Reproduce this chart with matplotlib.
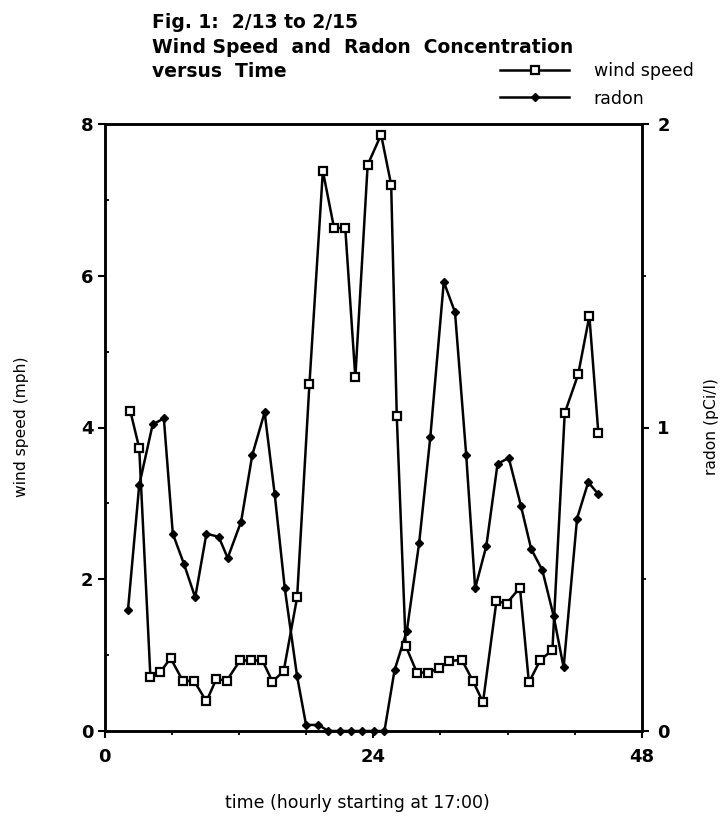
import matplotlib
matplotlib.use("Agg")
import matplotlib.pyplot as plt
from matplotlib.ticker import FixedLocator

# ---- data ----
wind_hours = [2.3, 3.1, 4.1, 5.0, 5.9, 7.0, 8.0, 9.1, 10.0, 10.9,
              12.1, 13.1, 14.1, 15.0, 16.0, 17.2, 18.3, 19.5, 20.5, 21.5,
              22.4, 23.5, 24.7, 25.6, 26.1, 26.9, 27.9, 28.9, 29.9, 30.8,
              31.9, 32.9, 33.8, 35.0, 35.9, 37.1, 37.9, 38.9, 40.0, 41.1,
              42.3, 43.3, 44.1]
wind_mph = [4.22, 3.73, 0.71, 0.78, 0.96, 0.66, 0.66, 0.39, 0.69, 0.66,
            0.93, 0.93, 0.93, 0.65, 0.79, 1.76, 4.57, 7.38, 6.63, 6.63,
            4.66, 7.46, 7.86, 7.20, 4.15, 1.12, 0.77, 0.77, 0.83, 0.92,
            0.94, 0.66, 0.38, 1.71, 1.68, 1.89, 0.64, 0.93, 1.07, 4.19,
            4.70, 5.47, 3.93]

radon_hours = [2.1, 3.1, 4.3, 5.3, 6.1, 7.1, 8.1, 9.1, 10.2, 11.0,
               12.2, 13.2, 14.3, 15.2, 16.1, 17.2, 18.0, 19.1, 20.0, 21.0,
               22.0, 23.0, 24.1, 25.0, 25.9, 27.0, 28.1, 29.1, 30.3, 31.3,
               32.3, 33.1, 34.1, 35.1, 36.1, 37.2, 38.1, 39.1, 40.1, 41.0,
               42.2, 43.2, 44.1]
radon_pci = [0.40, 0.81, 1.01, 1.03, 0.65, 0.55, 0.44, 0.65, 0.64, 0.57,
             0.69, 0.91, 1.05, 0.78, 0.47, 0.18, 0.02, 0.02, 0.0, 0.0,
             0.0, 0.0, 0.0, 0.0, 0.20, 0.33, 0.62, 0.97, 1.48, 1.38,
             0.91, 0.47, 0.61, 0.88, 0.90, 0.74, 0.60, 0.53, 0.38, 0.21,
             0.70, 0.82, 0.78]

x_major = [0, 24, 48]
x_minor = [6, 12, 18, 30, 36, 42]
wind_ticks = [0, 2, 4, 6, 8]
wind_minor = [1, 3, 5, 7]
radon_ticks = [0, 1, 2]
radon_minor = [0.5, 1.5]

title_lines = ["Fig. 1:  2/13 to 2/15",
               "Wind Speed  and  Radon  Concentration",
               "versus  Time"]

plt.rcParams['font.family'] = ['DejaVu Sans']

W, H = 720, 818
fig = plt.figure(figsize=(W / 100, H / 100), dpi=100)
left, right, top, bottom = 104.5, 642, 124, 731
ax = fig.add_axes([left / W, 1 - bottom / H, (right - left) / W, (bottom - top) / H])
ax2 = ax.twinx()

lw = 1.8
l_wind, = ax.plot(wind_hours, wind_mph, color='black', lw=lw, marker='s',
                  markersize=5.5, markerfacecolor='white', markeredgecolor='black',
                  markeredgewidth=1.6, clip_on=False, label='wind speed', zorder=3)
l_radon, = ax2.plot(radon_hours, radon_pci, color='black', lw=lw, marker='D',
                    markersize=4.5, markerfacecolor='black', markeredgecolor='black',
                    clip_on=False, label='radon', zorder=2)

ax.set_zorder(ax2.get_zorder() + 1)
ax.patch.set_visible(False)

ax.set_xlim(0, 48)
ax.set_ylim(0, 8)
ax2.set_ylim(0, 2)

ax.xaxis.set_major_locator(FixedLocator(x_major))
ax.xaxis.set_minor_locator(FixedLocator(x_minor))
ax.yaxis.set_major_locator(FixedLocator(wind_ticks))
ax.yaxis.set_minor_locator(FixedLocator(wind_minor))
ax2.yaxis.set_major_locator(FixedLocator(radon_ticks))
ax2.yaxis.set_minor_locator(FixedLocator(radon_minor))

for a in (ax, ax2):
    for s in a.spines.values():
        s.set_linewidth(lw)

ax.tick_params(axis='x', which='major', direction='out', length=5, width=1.5,
               pad=7, labelsize=13)
ax.tick_params(axis='x', which='minor', direction='out', length=3, width=1.3)
ax.tick_params(axis='y', which='major', direction='out', length=5, width=1.5,
               pad=3, labelsize=13)
ax.tick_params(axis='y', which='minor', direction='in', length=3, width=1.3)
ax2.tick_params(axis='y', which='major', direction='out', length=5, width=1.5,
                pad=6, labelsize=13)
ax2.tick_params(axis='y', which='minor', direction='out', length=3, width=1.3)

for lab in ax.get_xticklabels() + ax.get_yticklabels() + ax2.get_yticklabels():
    lab.set_fontweight('bold')

# title
for txt, base in zip(title_lines, [28, 53, 77]):
    fig.text(152 / W, 1 - base / H, txt, ha='left', va='baseline',
             fontsize=13.5, fontweight='bold')

# legend
fig.legend(handles=[l_wind, l_radon], loc='upper left',
           bbox_to_anchor=(500 / W, 1 - 62 / H), frameon=False,
           handlelength=4.0, handletextpad=1.4, labelspacing=0.55,
           borderpad=0, borderaxespad=0, fontsize=12.5, numpoints=1)

# axis labels
fig.text(21.7 / W, 1 - 427 / H, 'wind speed (mph)', rotation=90,
         ha='center', va='center', fontsize=11.2)
fig.text(711.7 / W, 1 - 427 / H, 'radon (pCi/l)', rotation=90,
         ha='center', va='center', fontsize=11.2)
fig.text(225 / W, 1 - 803 / H, 'time (hourly starting at 17:00)',
         ha='left', va='center', fontsize=12.5)

fig.savefig('out.png', dpi=100, facecolor='white')
